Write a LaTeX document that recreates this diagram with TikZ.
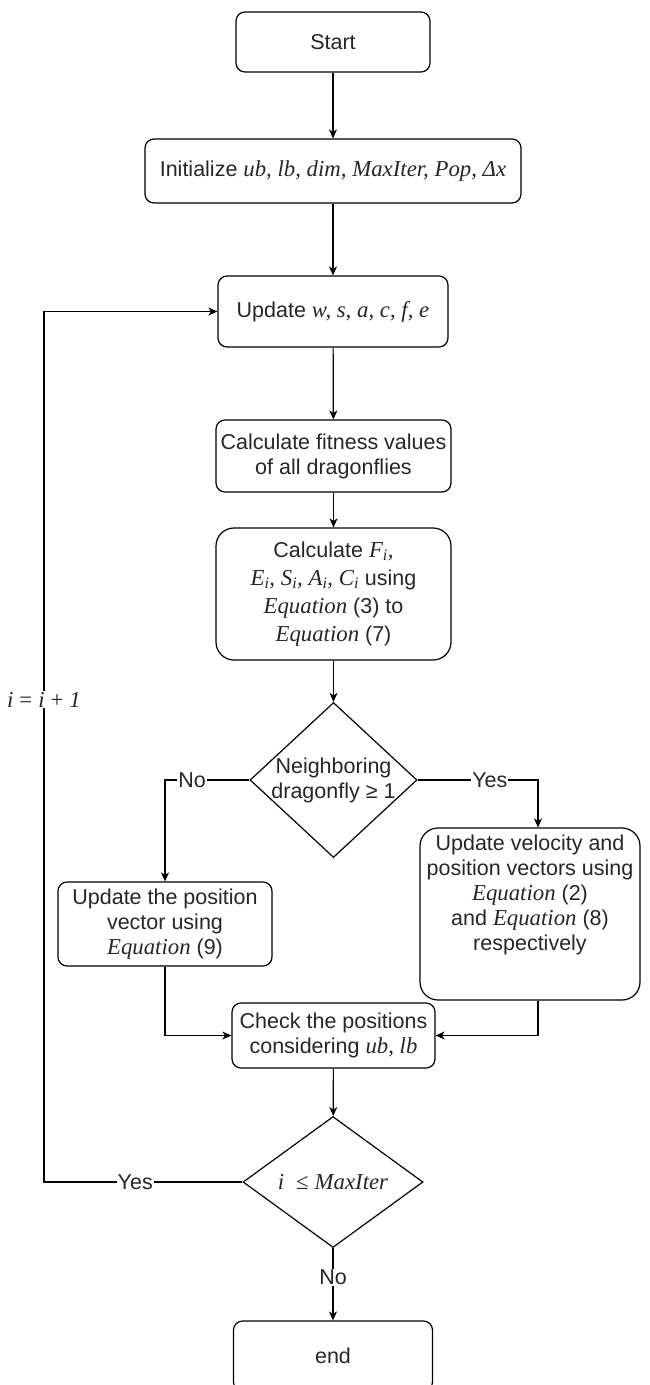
\documentclass[tikz,border=0pt]{standalone}
\usepackage[no-math]{fontspec}
\setmainfont{Liberation Sans}
\newfontfamily\mfont{Liberation Serif}[Scale=1.06]
\newcommand\mv[1]{{\mfont\itshape #1}}
\newcommand\ms[1]{{\mfont #1}}
\usetikzlibrary{shapes.geometric,arrows.meta}
\begin{document}
\begin{tikzpicture}[x=1pt,y=-1pt,
  font=\fontsize{21.5}{25}\selectfont,
  every node/.style={text=black!85},
  box/.style={draw, rounded corners=9pt, line width=1.2pt, align=center, inner sep=0pt},
  dia/.style={draw, diamond, line width=1.2pt, inner sep=0pt},
  txt/.style={align=center, inner sep=0pt},
  arr/.style={-{Stealth[length=9pt,width=8pt,inset=2.5pt]}, line width=1.2pt},
  lab/.style={fill=white, inner sep=1pt}]
\clip (0,0) rectangle (649,1385);
\node[box, minimum width=194, minimum height=60] (start) at (333,42) {Start};
\node[box, minimum width=376, minimum height=64] (init) at (333,171) {Initialize \mv{ub, lb, dim, MaxIter, Pop, Δx}};
\node[box, minimum width=230, minimum height=71] (upd) at (333,311.5) {Update \mv{w, s, a, c, f, e}};
\node[box, minimum width=235, minimum height=72] (fit) at (333.5,456) {Calculate fitness values\\of all dragonflies};
\node[box, rounded corners=18pt, minimum width=235, minimum height=132] (calc) at (333.5,594) {};
\node[txt] (calct) at (calc) {Calculate \mv{F\textsubscript{i},}\\[3pt] \mv{E\textsubscript{i}, S\textsubscript{i}, A\textsubscript{i}, C\textsubscript{i}} using\\[3pt] \mv{Equation} (3) to\\[3pt] \mv{Equation} (7)};
\node[dia, minimum width=167, minimum height=155] (d1) at (333.5,780) {};
\node[txt] (d1t) at (d1) {Neighboring\\dragonfly ≥ 1};
\node[box, minimum width=214, minimum height=84] (lbox) at (165,924) {Update the position\\vector using\\\mv{Equation} (9)};
\node[box, rounded corners=18pt, minimum width=220, minimum height=172] (rbox) at (530,914) {};
\node[txt] (rboxt) at (530,895) {Update velocity and\\position vectors using\\\mv{Equation} (2)\\and \mv{Equation} (8)\\respectively};
\node[box, minimum width=203, minimum height=65] (chk) at (333.5,1035.5) {Check the positions\\considering \mv{ub, lb}};
\node[dia, minimum width=180, minimum height=131] (d2) at (333,1182) {};
\node[txt] (d2t) at (d2) {\mv{i}\ \ \ms{≤} \mv{MaxIter}};
\node[box, minimum width=199, minimum height=70] (end) at (333,1356) {end};
\coordinate (lp) at (44,1182);

\draw[arr] (start) -- (init);
\draw[arr] (init) -- (upd);
\draw[arr] (upd) -- (fit);
\draw[arr] (fit) -- (calc);
\draw[arr] (calc) -- (d1);
\draw[arr] (d1.west) -| node[lab, pos=0.34]{No} (lbox.north);
\draw[arr] (d1.east) -| node[lab, pos=0.3]{Yes} ([xshift=8]rbox.north);
\draw[arr] (lbox.south) |- (chk.west);
\draw[arr] ([xshift=8]rbox.south) |- (chk.east);
\draw[arr] (chk) -- (d2);
\draw[arr] (d2.south) -- node[lab, pos=0.4]{No} (end);
\draw[arr] (d2.west) -- node[lab, pos=0.54]{Yes} (lp) |- node[lab, pos=0.277]{\mv{i} \ms{=} \mv{i} \ms{+} \mv{1}} (upd.west);
\end{tikzpicture}
\end{document}
